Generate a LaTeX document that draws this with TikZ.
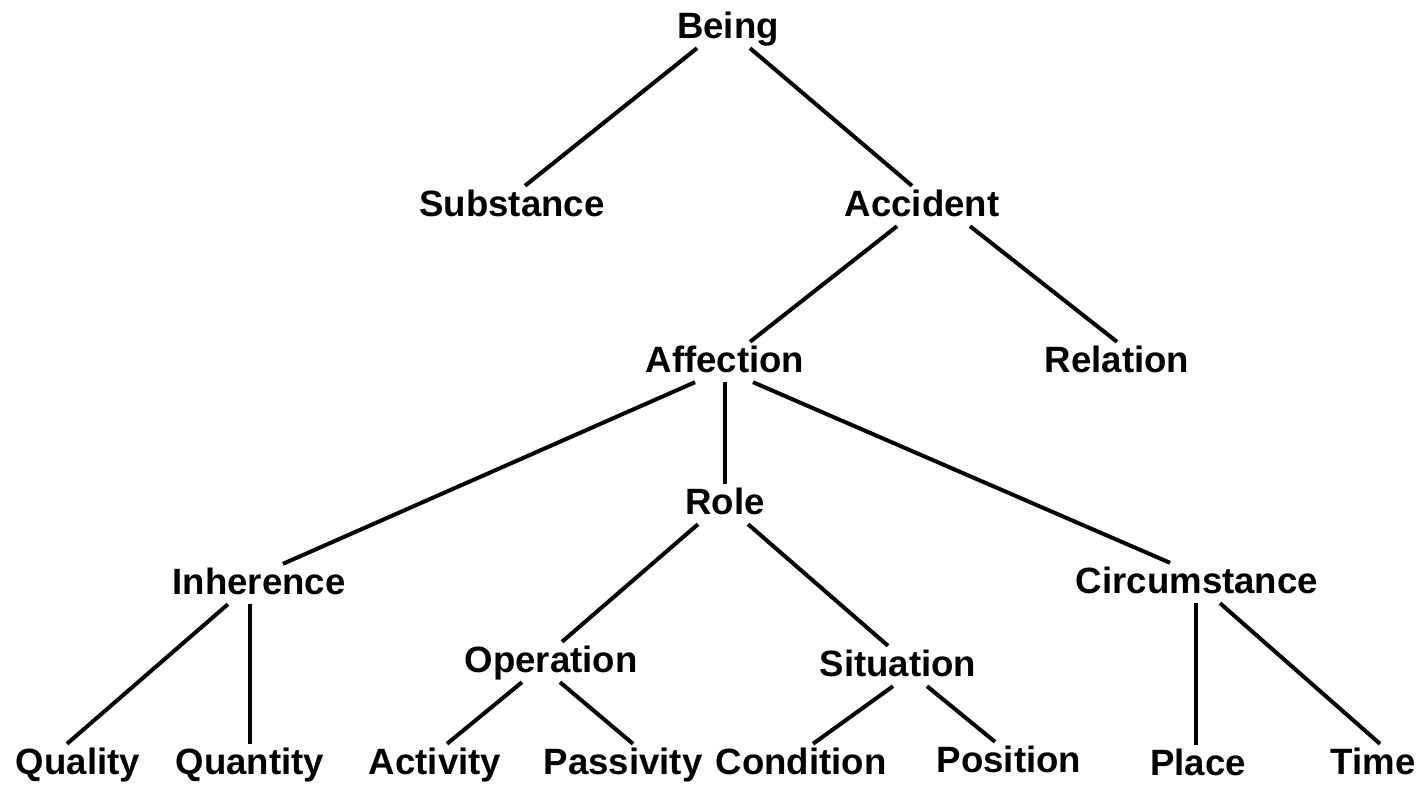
\documentclass[tikz,border=0pt]{standalone}
\usepackage{fontspec}
\setmainfont{Liberation Sans}
\usepackage{tikz}
\usetikzlibrary{positioning,calc}
\tikzset{
  categ/.style={anchor=base, inner sep=4pt, text height=26pt, text depth=6pt,
                font=\fontsize{36.6}{40}\selectfont\bfseries},
  branch/.style={line width=4pt, draw=black},
}

\begin{document}
\begin{tikzpicture}[x=1pt, y=-1pt]
    \useasboundingbox (0,0) rectangle (1420,784);
    % categories
    \node[categ] (being) at (728,38) {Being};
    \node[categ] (substance) at (512,216) {Substance};
    \node[categ] (accident) at (922,216) {Accident};
    \node[categ] (affection) at (725,372) {Affection};
    \node[categ] (relation) at (1117,372) {Relation};
    \node[categ] (role) at (725,514) {Role};
    \node[categ] (inherence) at (259,594) {Inherence};
    \node[categ] (circumstance) at (1197,593) {Circumstance};
    \node[categ] (operation) at (551,672) {Operation};
    \node[categ] (situation) at (898,676) {Situation};
    \node[categ] (quality) at (78,774) {Quality};
    \node[categ] (quantity) at (250,774) {Quantity};
    \node[categ] (activity) at (435,774) {Activity};
    \node[categ] (passivity) at (623,774) {Passivity};
    \node[categ] (condition) at (801,774) {Condition};
    \node[categ] (position) at (1009,772) {Position};
    \node[categ] (place) at (1198,775) {Place};
    \node[categ] (time) at (1373,774) {Time};
    % branches
    \draw[branch] ([xshift=-31pt]being.south) -- ([xshift=13pt]substance.north);
    \draw[branch] ([xshift=22pt]being.south) -- ([xshift=-10pt]accident.north);
    \draw[branch] ([xshift=-25pt]accident.south) -- ([xshift=25pt]affection.north);
    \draw[branch] ([xshift=48pt]accident.south) -- (relation.north);
    \draw[branch] ([xshift=-30pt]affection.south) -- ([xshift=24pt]inherence.north);
    \draw[branch] (affection.south) -- (role.north);
    \draw[branch] ([xshift=28pt]affection.south) -- ([xshift=-27pt]circumstance.north);
    \draw[branch] ([xshift=-27pt]role.south) -- ([xshift=11pt]operation.north);
    \draw[branch] ([xshift=23pt]role.south) -- ([xshift=-10pt]situation.north);
    \draw[branch] ([xshift=-31pt]inherence.south) -- ([xshift=-11pt]quality.north);
    \draw[branch] ([xshift=-9pt]inherence.south) -- (quantity.north);
    \draw[branch] ([xshift=-1pt]circumstance.south) -- ([xshift=-2pt]place.north);
    \draw[branch] ([xshift=23pt]circumstance.south) -- ([xshift=7pt]time.north);
    \draw[branch] ([xshift=-29pt]operation.south) -- ([xshift=12pt]activity.north);
    \draw[branch] ([xshift=9pt]operation.south) -- ([xshift=10pt]passivity.north);
    \draw[branch] ([xshift=-5pt]situation.south) -- ([xshift=12pt]condition.north);
    \draw[branch] ([xshift=29pt]situation.south) -- ([xshift=-14pt]position.north);
\end{tikzpicture}
\end{document}
